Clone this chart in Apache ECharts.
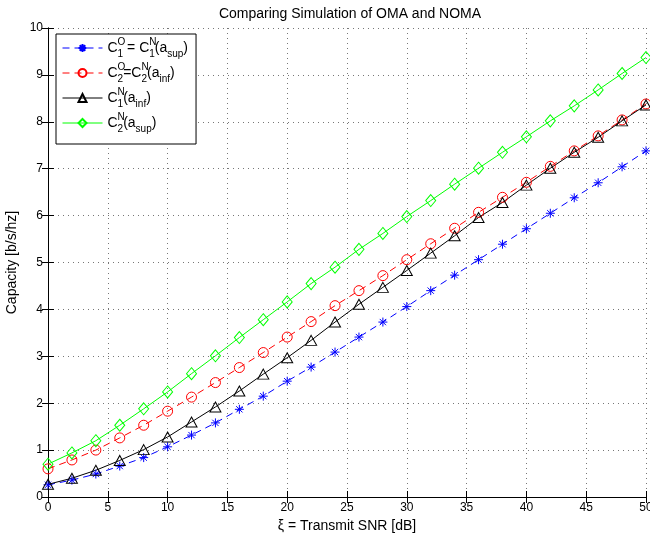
<!DOCTYPE html>
<html>
<head>
<meta charset="utf-8">
<script src="https://cdn.jsdelivr.net/npm/echarts@6/dist/echarts.min.js"></script>
<style>
html,body{margin:0;padding:0;background:#fff;}
#c{width:650px;height:541px;}
</style>
</head>
<body>
<div id="c"></div>
<script>
const snr = [0,2,4,6,8,10,12,14,16,18,20,22,24,26,28,30,32,34,36,38,40,42,44,46,48,50];
const c1OMA = [0.26,0.36,0.49,0.66,0.84,1.07,1.32,1.58,1.87,2.15,2.47,2.77,3.09,3.41,3.73,4.06,4.40,4.73,5.06,5.39,5.72,6.05,6.38,6.70,7.04,7.38];
const c2OMA = [0.60,0.79,1.00,1.26,1.53,1.83,2.13,2.44,2.76,3.08,3.41,3.74,4.08,4.40,4.72,5.06,5.40,5.73,6.07,6.39,6.71,7.05,7.38,7.70,8.04,8.38];
const c1Ninf = [0.27,0.40,0.57,0.78,1.01,1.28,1.60,1.92,2.26,2.62,2.97,3.34,3.73,4.11,4.47,4.83,5.20,5.57,5.96,6.28,6.65,7.01,7.35,7.67,8.02,8.36];
const c2Nsup = [0.70,0.94,1.20,1.53,1.88,2.24,2.63,3.01,3.40,3.78,4.16,4.55,4.90,5.28,5.62,5.98,6.32,6.67,7.01,7.35,7.68,8.02,8.34,8.68,9.03,9.37];
const seriesNames = ['C1O = C1N(asup)','C2O=C2N(ainf)','C1N(ainf)','C2N(asup)'];
const legendRich = [
  '{b|C}{sp|O}{sb|1}{b| = C}{sp|N}{sb|1}{b|(a}{sb2|sup}{b|)}',
  '{b|C}{sp|O}{sb|2}{b|=C}{sp|N}{sb|2}{b|(a}{sb2|inf}{b|)}',
  '{b|C}{sp|N}{sb|1}{b|(a}{sb2|inf}{b|)}',
  '{b|C}{sp|N}{sb|2}{b|(a}{sb2|sup}{b|)}'
];
const xTicks = {min:0, max:50, interval:5};
const yTicks = {min:0, max:10, interval:1};
const title = 'Comparing Simulation of OMA and NOMA';
const xName = 'ξ = Transmit SNR [dB]';
const yName = 'Capacity [b/s/hz]';

const FONT = 'Liberation Sans, Arial, Helvetica, sans-serif';
const pair = a => a.map((v,i)=>[snr[i], v]);
const starPath = 'path://M5,0L5,10M0,5L10,5M1.5,1.5L8.5,8.5M1.5,8.5L8.5,1.5';

const chart = echarts.init(document.getElementById('c'), null, {renderer:'canvas'});
const hiddenAxis = {
  show:true, axisLabel:{show:false}, splitLine:{show:false},
  axisLine:{show:true, lineStyle:{color:'#000', width:1}},
  axisTick:{show:true, inside:true, length:6, lineStyle:{color:'#000'}}
};
chart.setOption({
  animation:false,
  backgroundColor:'#fff',
  title:{text:title, left:345, textAlign:'center', top:2,
    textStyle:{fontFamily:FONT, fontSize:14, fontWeight:'normal', color:'#000'}},
  grid:{left:48, right:4, top:28, bottom:44, containLabel:false, outerBoundsMode:'none'},
  legend:{
    orient:'vertical', left:56, top:34,
    backgroundColor:'#fff', borderColor:'#000', borderWidth:1, borderRadius:0,
    padding:[3,8,10,6], itemWidth:40, itemHeight:10, itemGap:3,
    lineStyle:{width:1},
    data:seriesNames,
    formatter: n => legendRich[seriesNames.indexOf(n)],
    textStyle:{fontFamily:FONT, color:'#000',
      rich:{
        b:{fontFamily:FONT, fontSize:14, color:'#000', lineHeight:22, verticalAlign:'middle'},
        sp:{fontFamily:FONT, fontSize:10, color:'#000', lineHeight:10, verticalAlign:'top', width:0},
        sb:{fontFamily:FONT, fontSize:10, color:'#000', lineHeight:10, verticalAlign:'bottom'},
        sb2:{fontFamily:FONT, fontSize:10, color:'#000', lineHeight:10, verticalAlign:'bottom'}
      }}
  },
  xAxis:[{
    type:'value', min:xTicks.min, max:xTicks.max, interval:xTicks.interval,
    name:xName, nameLocation:'middle', nameGap:19,
    nameTextStyle:{fontFamily:FONT, fontSize:14, color:'#000'},
    axisLine:{show:true, onZero:false, lineStyle:{color:'#000', width:1}},
    axisTick:{show:true, inside:true, length:6, lineStyle:{color:'#000'}},
    axisLabel:{fontFamily:FONT, fontSize:12, color:'#000', margin:5},
    splitLine:{show:true, lineStyle:{color:'#777', type:[1,4], width:1}}
  },{
    type:'value', position:'top', min:xTicks.min, max:xTicks.max, interval:xTicks.interval, ...hiddenAxis
  }],
  yAxis:[{
    type:'value', min:yTicks.min, max:yTicks.max, interval:yTicks.interval,
    name:yName, nameLocation:'middle', nameGap:24,
    nameTextStyle:{fontFamily:FONT, fontSize:14, color:'#000'},
    axisLine:{show:true, onZero:false, lineStyle:{color:'#000', width:1}},
    axisTick:{show:true, inside:true, length:6, lineStyle:{color:'#000'}},
    axisLabel:{fontFamily:FONT, fontSize:12, color:'#000', margin:5},
    splitLine:{show:true, lineStyle:{color:'#777', type:[1,4], width:1}}
  },{
    type:'value', position:'right', min:yTicks.min, max:yTicks.max, interval:yTicks.interval, ...hiddenAxis
  }],
  series:[
    {name:seriesNames[0], type:'line', data:pair(c1OMA), symbol:starPath, symbolSize:9,
     lineStyle:{color:'#0000ff', width:1, type:[7,5]},
     itemStyle:{color:'#0000ff', borderColor:'#0000ff', borderWidth:1}},
    {name:seriesNames[1], type:'line', data:pair(c2OMA), symbol:'circle', symbolSize:10,
     lineStyle:{color:'#ff0000', width:1, type:[7,5]},
     itemStyle:{color:'rgba(0,0,0,0)', borderColor:'#ff0000', borderWidth:1}},
    {name:seriesNames[2], type:'line', data:pair(c1Ninf), symbol:'triangle', symbolSize:[11,10],
     lineStyle:{color:'#000', width:1},
     itemStyle:{color:'rgba(0,0,0,0)', borderColor:'#000', borderWidth:1}},
    {name:seriesNames[3], type:'line', data:pair(c2Nsup), symbol:'diamond', symbolSize:[10,12],
     lineStyle:{color:'#00ff00', width:1},
     itemStyle:{color:'rgba(0,0,0,0)', borderColor:'#00ff00', borderWidth:1}}
  ]
});
</script>
</body>
</html>
